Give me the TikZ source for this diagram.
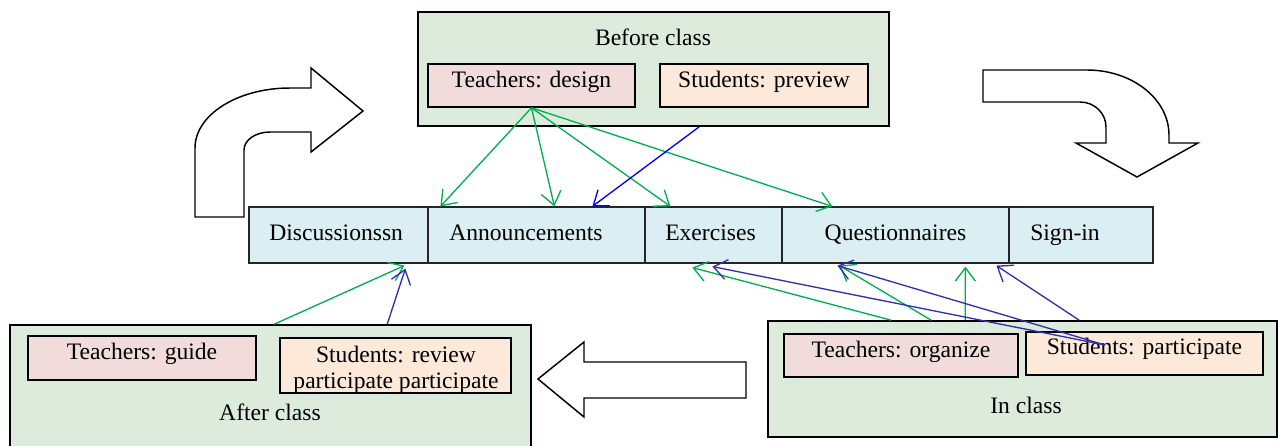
\documentclass[tikz,border=0pt]{standalone}
\usepackage{fontspec}
\setmainfont{Liberation Serif}
\usetikzlibrary{fit,calc,arrows.meta}
\definecolor{outerfill}{RGB}{221,235,221}
\definecolor{tfill}{RGB}{242,220,219}
\definecolor{sfill}{RGB}{253,233,217}
\definecolor{mfill}{RGB}{218,238,243}
\definecolor{lgreen}{RGB}{0,176,80}
\definecolor{lblue}{RGB}{0,0,255}
\definecolor{dblue}{RGB}{48,48,176}
\begin{document}
\begin{tikzpicture}[x=0.75pt,y=-0.75pt,
  every node/.style={font=\fontsize{17.7}{19.5}\selectfont},
  box/.style={draw=black, line width=1.2pt, inner sep=0pt},
  outer/.style={box, fill=outerfill},
  tbox/.style={box, fill=tfill},
  sbox/.style={box, fill=sfill},
  mbox/.style={draw=black!85, line width=0.9pt, fill=mfill, inner sep=0pt},
  lbl/.style={inner sep=0pt},
  conn/.style={line width=1pt, -{Straight Barb[length=10pt,width=15pt]}},
  gconn/.style={conn, draw=lgreen},
  bconn/.style={conn, draw=lblue},
  dconn/.style={conn, draw=dblue},
  blockarrow/.style={draw=black, line width=1.1pt, fill=white, line join=miter}]
\clip (0,0) rectangle (1278,446);
\fill[white] (0,0) rectangle (1278,446);

% block arrows
\draw[blockarrow] (195,217) -- (195,148)
  .. controls (195,114.9) and (237.5,88) .. (290,88)
  -- (311,88) -- (311,68) -- (363,111) -- (311,152) -- (311,132) -- (270,132)
  .. controls (255.6,132) and (244,140) .. (244,150)
  -- (244,217) -- cycle;
\draw[blockarrow] (983,70) -- (1087,70)
  .. controls (1132.3,70) and (1169,99.1) .. (1169,135)
  -- (1169,143) -- (1198,143) -- (1137,177) -- (1076,143) -- (1106,143) -- (1106,127)
  .. controls (1106,113.2) and (1094.4,102) .. (1080,102)
  -- (983,102) -- cycle;
\draw[blockarrow] (746,362) -- (584,362) -- (584,342) -- (538,379) -- (584,417)
  -- (584,398) -- (746,398) -- cycle;

% before class
\node[outer, fit={(418,12) (889,126)}] (before) {};
\node[lbl, anchor=base] (lbefore) at (653,45) {Before class};
\node[tbox, fit={(428,64) (635,107)}] (tdesign) {};
\node[lbl, anchor=base] (ltdesign) at (531.5,87) {Teachers: design};
\node[sbox, fit={(660,64) (868,107)}] (spreview) {};
\node[lbl, anchor=base] (lspreview) at (764,87) {Students: preview};

% middle row
\node[mbox, fit={(249,207) (428,263)}] (disc) {};
\node[mbox, fit={(428,207) (645,263)}] (ann) {};
\node[mbox, fit={(645,207) (782,263)}] (ex) {};
\node[mbox, fit={(782,207) (1009,263)}] (quest) {};
\node[mbox, fit={(1009,207) (1153,263)}] (sign) {};
\node[lbl, anchor=base west] (ldisc) at (269,240) {Discussionssn};
\node[lbl, anchor=base west] (lann) at (449,240) {Announcements};
\node[lbl, anchor=base west] (lex) at (665,240) {Exercises};
\node[lbl, anchor=base] (lquest) at (895.5,240) {Questionnaires};
\node[lbl, anchor=base west] (lsign) at (1030,240) {Sign-in};

% after class
\node[outer, fit={(10,325) (531,470)}] (after) {};
\node[tbox, fit={(28,336) (256,380)}] (tguide) {};
\node[lbl, anchor=base] (ltguide) at (142,359) {Teachers: guide};
\node[sbox, fit={(280,338) (511,393)}] (sreview) {};
\node[lbl, anchor=base] (lsreview1) at (396,362) {Students: review};
\node[lbl, anchor=base] (lsreview2) at (396,388) {participate participate};
\node[lbl, anchor=base] (lafter) at (270,420) {After class};

% in class
\node[outer, fit={(768,321) (1277,437)}] (inclass) {};
\node[tbox, fit={(784,334) (1018,377)}] (torg) {};
\node[lbl, anchor=base] (ltorg) at (901,357) {Teachers: organize};
\node[sbox, fit={(1026,332) (1263,375)}] (spart) {};
\node[lbl, anchor=base] (lspart) at (1144.5,354) {Students: participate};
\node[lbl, anchor=base] (linclass) at (1026,413) {In class};

% connectors from before class
\draw[gconn] (tdesign.south) -- ($(ann.north west)+(13,0)$);
\draw[gconn] (tdesign.south) -- ($(ann.north west)+(127,0)$);
\draw[gconn] (tdesign.south) -- ($(ex.north west)+(26,0)$);
\draw[gconn] (tdesign.south) -- ($(quest.north west)+(51,0)$);
\draw[bconn] ($(before.south west)+(282,0)$) -- ($(ann.north west)+(165,0)$);

% connectors from in class
\draw[gconn] ($(inclass.north west)+(124,0)$) -- ($(ex.south west)+(48,4)$);
\draw[gconn] ($(inclass.north west)+(164,0)$) -- ($(quest.south west)+(58,2)$);
\draw[gconn] ($(inclass.north west)+(198,0)$) -- ($(quest.south west)+(184,3)$);
\draw[dconn] ($(spart.center)+(-39.5,-8.5)$) -- ($(ex.south west)+(68,3)$);
\draw[dconn] ($(spart.center)+(-39.5,-8.5)$) -- ($(quest.south west)+(56,2)$);
\draw[dconn] ($(inclass.north west)+(312,0)$) -- ($(sign.south west)+(-12,2)$);

% connectors from after class
\draw[gconn] ($(after.north west)+(265,0)$) -- ($(disc.south west)+(156,2)$);
\draw[dconn] ($(after.north west)+(378,0)$) -- ($(disc.south west)+(157,5)$);
\end{tikzpicture}
\end{document}
